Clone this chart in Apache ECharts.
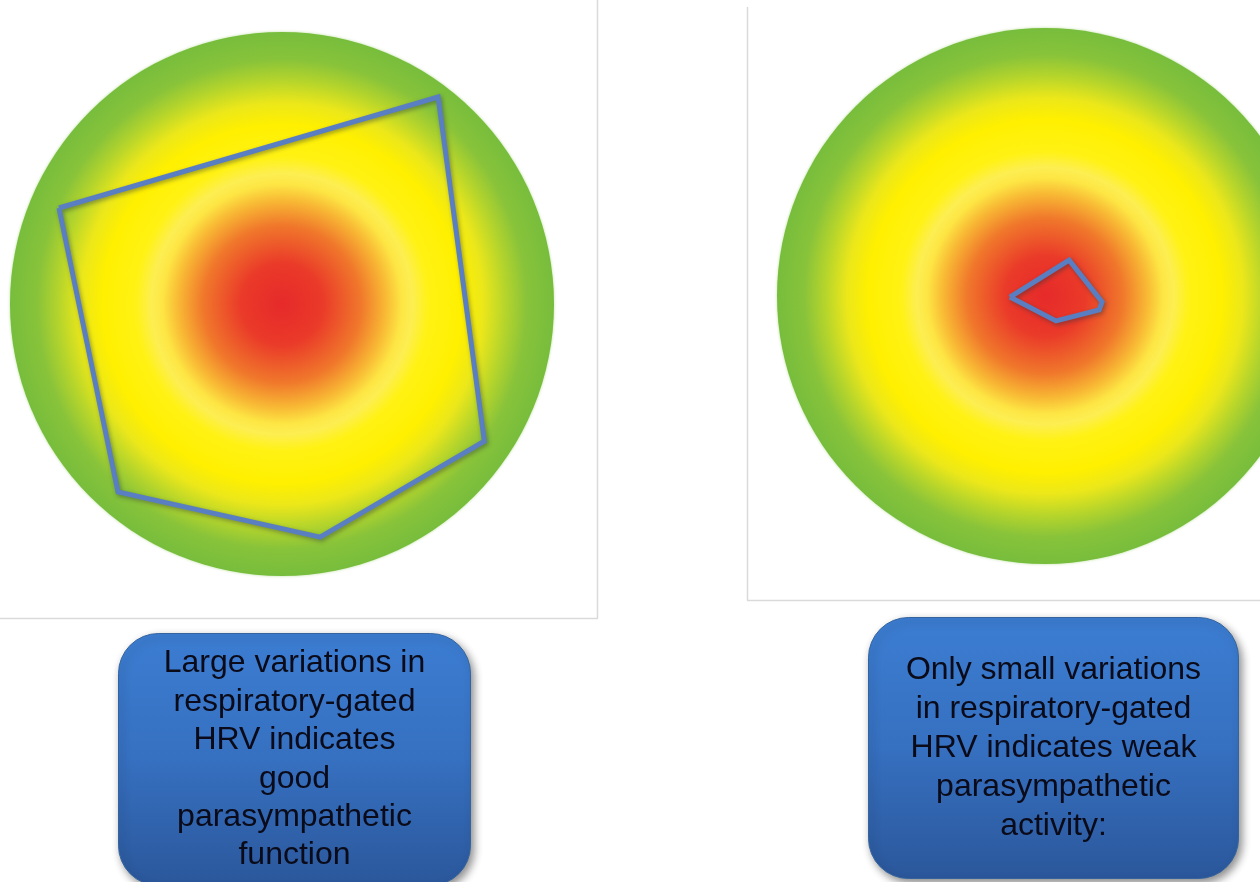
<!DOCTYPE html>
<html>
<head>
<meta charset="utf-8">
<script src="https://cdn.jsdelivr.net/npm/echarts@6/dist/echarts.min.js"></script>
<style>
html,body{margin:0;padding:0;background:#fff;}
#chart{width:1260px;height:882px;}
</style>
</head>
<body>
<div id="chart"></div>
<script>
// Polygon vertices, in units of the circle radius (x right, y up, circle centre = 0,0)
const largeVariationX = [-0.820, 0.574, 0.744, 0.140, -0.603];
const largeVariationY = [0.353, 0.761, -0.504, -0.857, -0.691];
const smallVariationX = [-0.131, 0.090, 0.213, 0.202, 0.041];
const smallVariationY = [-0.004, 0.134, -0.022, -0.052, -0.093];
// Caption texts
const leftCaption = ["Large variations in", "respiratory-gated", "HRV indicates", "good", "parasympathetic", "function"];
const rightCaption = ["Only small variations", "in respiratory-gated", "HRV indicates weak", "parasympathetic", "activity:"];

function closedPath(xs, ys) {
  const pts = xs.map((x, i) => [x, ys[i]]);
  pts.push([xs[0], ys[0]]);
  return pts;
}

const chart = echarts.init(document.getElementById('chart'), null, {renderer: 'canvas'});

const heatStops = [
  {offset: 0.00, color: '#e62a2a'},
  {offset: 0.15, color: '#ea3a29'},
  {offset: 0.29, color: '#f0782b'},
  {offset: 0.38, color: '#f8b834'},
  {offset: 0.44, color: '#fde644'},
  {offset: 0.48, color: '#fdee52'},
  {offset: 0.54, color: '#fff214'},
  {offset: 0.66, color: '#fff000'},
  {offset: 0.74, color: '#ebe71a'},
  {offset: 0.82, color: '#b6d52b'},
  {offset: 0.90, color: '#88c33a'},
  {offset: 1.00, color: '#77bd3c'}
];

function discSeries(idx) {
  return {
    type: 'custom',
    xAxisIndex: idx, yAxisIndex: idx,
    data: [[0, 0]],
    silent: true,
    z: 1,
    renderItem: function (params, api) {
      const c = api.coord([0, 0]);
      const s = api.size([1, 1]);
      return {
        type: 'circle',
        shape: {cx: c[0], cy: c[1], r: s[1]},
        style: {
          fill: new echarts.graphic.RadialGradient(0.5, 0.5, 0.5, heatStops),
          shadowBlur: 3, shadowColor: 'rgba(120,190,60,0.5)'
        }
      };
    }
  };
}

function polySeries(idx, xs, ys, w) {
  return {
    type: 'line',
    xAxisIndex: idx, yAxisIndex: idx,
    data: closedPath(xs, ys),
    symbol: 'none',
    silent: true,
    z: 3,
    lineStyle: {
      color: '#5a7ec2', width: w, join: 'miter',
      shadowColor: 'rgba(40,50,60,0.45)', shadowBlur: 4, shadowOffsetX: 1.5, shadowOffsetY: 2
    }
  };
}

function captionBox(x, y, w, h, lines, lh) {
  return {
    type: 'group',
    left: x, top: y,
    children: [
      {
        type: 'rect',
        shape: {x: 0, y: 0, width: w, height: h, r: 40},
        style: {
          fill: new echarts.graphic.LinearGradient(0, 0, 0, 1, [
            {offset: 0, color: '#3c7dd2'},
            {offset: 0.5, color: '#3670c0'},
            {offset: 1, color: '#2b579b'}
          ]),
          stroke: '#33649f', lineWidth: 1,
          shadowColor: 'rgba(0,0,0,0.45)', shadowBlur: 8, shadowOffsetX: 3, shadowOffsetY: 4
        }
      },
      {
        type: 'text',
        x: w / 2, y: h / 2,
        style: {
          text: lines.join('\n'),
          font: '32px "Liberation Sans", Arial, sans-serif',
          lineHeight: lh,
          fill: '#0a0a18',
          align: 'center',
          verticalAlign: 'middle'
        }
      }
    ]
  };
}

const option = {
  backgroundColor: '#ffffff',
  animation: false,
  grid: [
    {left: 10, top: 32, width: 544, height: 544},
    {left: 777, top: 28, width: 482.4, height: 536}
  ],
  xAxis: [
    {gridIndex: 0, type: 'value', min: -1, max: 1, show: false},
    {gridIndex: 1, type: 'value', min: -1, max: 0.8, show: false}
  ],
  yAxis: [
    {gridIndex: 0, type: 'value', min: -1, max: 1, show: false},
    {gridIndex: 1, type: 'value', min: -1, max: 1, show: false}
  ],
  graphic: [
    {type: 'line', shape: {x1: 597.5, y1: -2, x2: 597.5, y2: 618.5}, style: {stroke: '#dadada', lineWidth: 1.5}, z: 0},
    {type: 'line', shape: {x1: -2, y1: 618.5, x2: 598, y2: 618.5}, style: {stroke: '#dadada', lineWidth: 1.5}, z: 0},
    {type: 'line', shape: {x1: 747.5, y1: 7, x2: 747.5, y2: 600.5}, style: {stroke: '#dadada', lineWidth: 1.5}, z: 0},
    {type: 'line', shape: {x1: 747, y1: 600.5, x2: 1262, y2: 600.5}, style: {stroke: '#dadada', lineWidth: 1.5}, z: 0},
    captionBox(118, 633, 352, 252, leftCaption, 38.4),
    captionBox(868, 617, 370, 261, rightCaption, 39)
  ],
  series: [
    discSeries(0),
    discSeries(1),
    polySeries(0, largeVariationX, largeVariationY, 5),
    polySeries(1, smallVariationX, smallVariationY, 5)
  ]
};
chart.setOption(option);
</script>
</body>
</html>
